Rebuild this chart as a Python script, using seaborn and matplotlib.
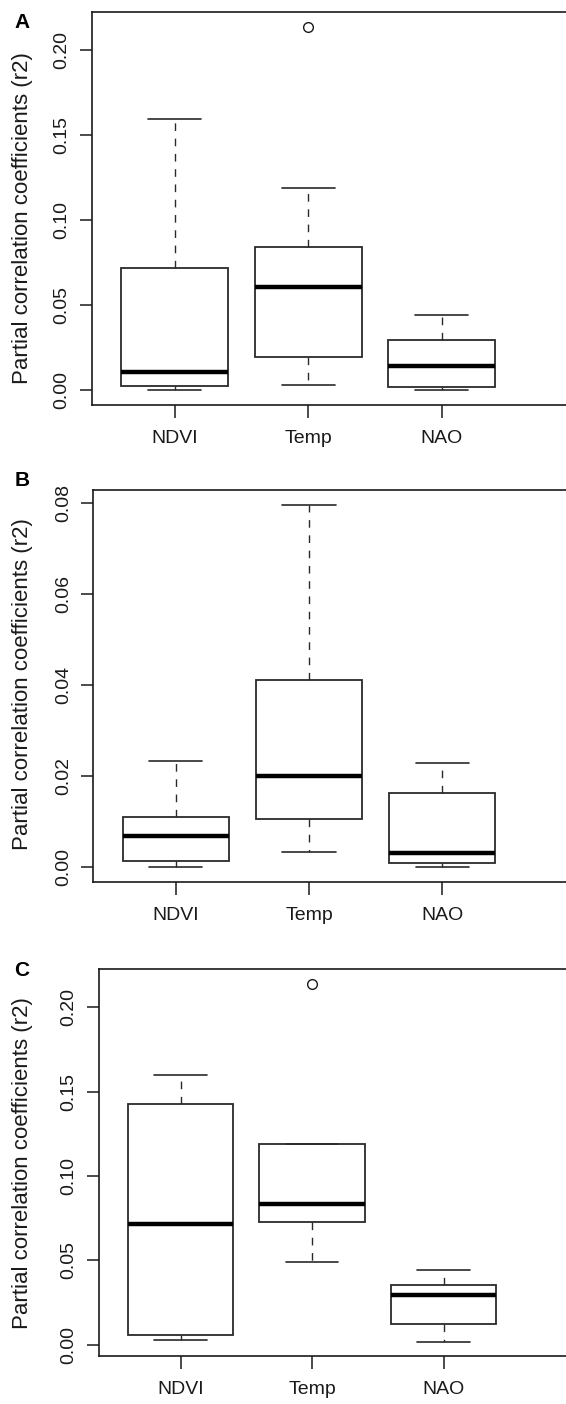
import numpy as np
import pandas as pd
import matplotlib
matplotlib.use("Agg")
import matplotlib.pyplot as plt
import seaborn as sns

# variables on the x axis
variables = ['NDVI', 'Temp', 'NAO']

# panel A values (9 per variable)
a_ndvi = [0.0, 0.0012, 0.0027, 0.0060, 0.0108, 0.0350, 0.0721, 0.1050, 0.1596]
a_temp = [0.0031, 0.0110, 0.0196, 0.0420, 0.0608, 0.0720, 0.0843, 0.1188, 0.2139]
a_nao = [0.0, 0.0008, 0.0019, 0.0075, 0.0141, 0.0210, 0.0294, 0.0370, 0.0443]

# panel B values
b_ndvi = [0.0, 0.0006, 0.0013, 0.0040, 0.0069, 0.0090, 0.0110, 0.0160, 0.0232]
b_temp = [0.0033, 0.0070, 0.0105, 0.0150, 0.0199, 0.0300, 0.0410, 0.0580, 0.0796]
b_nao = [0.0, 0.0005, 0.0010, 0.0020, 0.0032, 0.0090, 0.0163, 0.0195, 0.0228]

# panel C values
c_ndvi = [0.0026, 0.0040, 0.0055, 0.0300, 0.0713, 0.1100, 0.1425, 0.1500, 0.1595]
c_temp = [0.0490, 0.0610, 0.0729, 0.0780, 0.0831, 0.1000, 0.1191, 0.1191, 0.2138]
c_nao = [0.0018, 0.0070, 0.0124, 0.0210, 0.0296, 0.0330, 0.0355, 0.0400, 0.0442]

ticks_ac = [0.0, 0.05, 0.10, 0.15, 0.20]
ticks_b = [0.0, 0.02, 0.04, 0.06, 0.08]
ylab = 'Partial correlation coefficients (r2)'

sns.set_style("ticks")
plt.rcParams['font.family'] = ['Liberation Sans', 'DejaVu Sans']

W, H = 566, 1404
fig = plt.figure(figsize=(W / 100, H / 100), dpi=100)

ink = '#1a1a1a'


def long_df(ndvi, temp, nao):
    return pd.DataFrame({
        'var': ['NDVI'] * len(ndvi) + ['Temp'] * len(temp) + ['NAO'] * len(nao),
        'value': ndvi + temp + nao,
    })


# (letter, data, yticks, ylim, left px, top px, bottom px, px per category, ylabel centre px, letter y px)
panels = [
    ('A', long_df(a_ndvi, a_temp, a_nao), ticks_ac, (-0.0086, 0.2226), 92, 12, 405, 133.5, 218, 22),
    ('B', long_df(b_ndvi, b_temp, b_nao), ticks_b, (-0.0032, 0.0828), 93.3, 490, 881.7, 133.15, 684, 481),
    ('C', long_df(c_ndvi, c_temp, c_nao), ticks_ac, (-0.0067, 0.2224), 99, 969.3, 1356, 131.5, 1163, 970),
]

right_px = 592  # right spine sits outside the picture, as in the original

for letter, df, yticks, ylim, left, top, bottom, scale, ylab_y, let_y in panels:
    ax = fig.add_axes([left / W, 1 - bottom / H, (right_px - left) / W, (bottom - top) / H])
    sns.boxplot(data=df, x='var', y='value', order=variables, ax=ax,
                color='white', width=0.8, linecolor='#2a2a2a', linewidth=1.3,
                medianprops=dict(color='black', linewidth=3.2),
                whiskerprops=dict(linestyle=(0, (5.5, 5.5)), linewidth=1.0),
                capprops=dict(linewidth=1.2),
                flierprops=dict(marker='o', markersize=7, markerfacecolor='none',
                                markeredgecolor=ink, markeredgewidth=1))
    ax.set_xlim(-0.62, -0.62 + (right_px - left) / scale)
    ax.set_ylim(*ylim)
    ax.set_yticks(yticks)
    ax.set_yticklabels([f'{t:.2f}' for t in yticks])
    ax.set_xlabel('')
    ax.set_ylabel(ylab, fontsize=16, va='center', color=ink)
    ax.yaxis.set_label_coords(22.8 / W, 1 - ylab_y / H, transform=fig.transFigure)
    ax.tick_params(axis='both', direction='out', length=9, width=1.1, colors=ink, labelsize=14)
    ax.tick_params(axis='y', pad=6.5, labelrotation=90)
    ax.tick_params(axis='x', pad=9)
    for lbl in ax.get_yticklabels():
        lbl.set_va('center')
    for sp in ax.spines.values():
        sp.set_color(ink)
        sp.set_linewidth(1.2)
    ax.grid(False)
    fig.text(22 / W, 1 - let_y / H, letter, fontsize=15, fontweight='bold',
             ha='center', va='center', color='black')

fig.savefig('out.png', dpi=100)
